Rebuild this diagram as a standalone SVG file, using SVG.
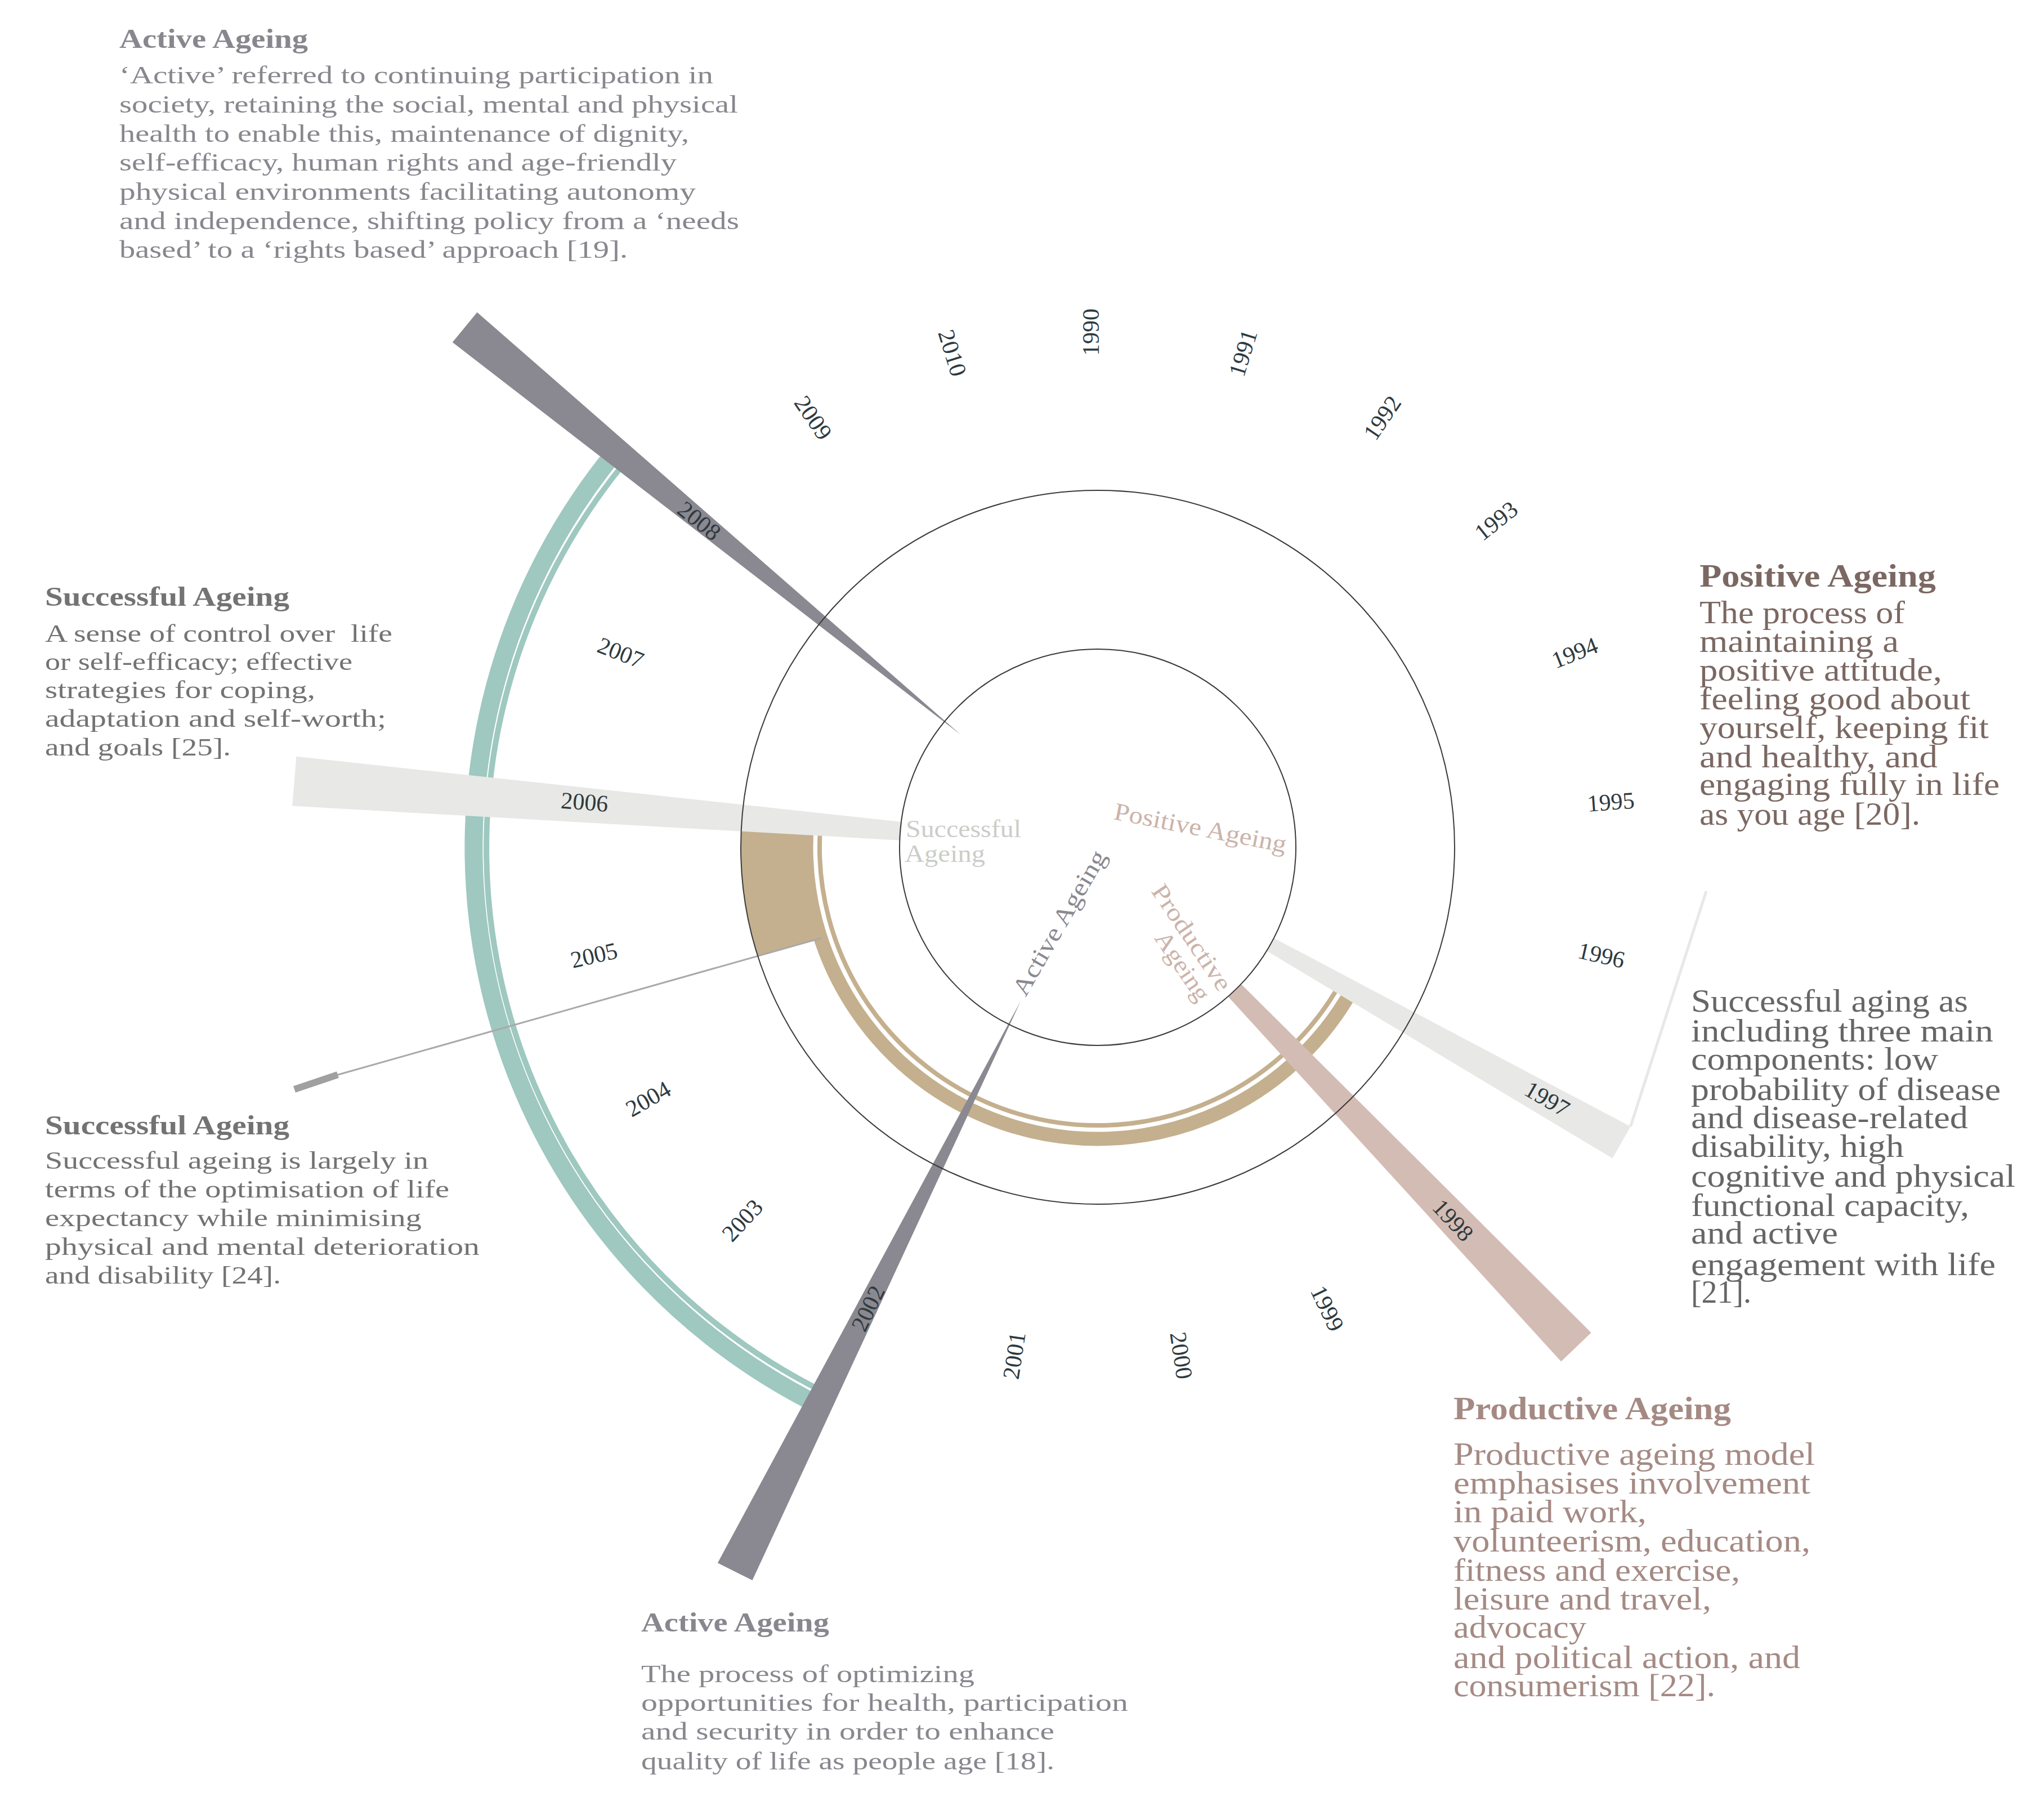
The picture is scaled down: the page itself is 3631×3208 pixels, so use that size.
<svg xmlns="http://www.w3.org/2000/svg" width="3631" height="3208" viewBox="0 0 3631 3208">
<style>
text{font-family:"Liberation Serif","DejaVu Serif",serif}
.yr{font-size:42px;fill:#2e3a3e;text-anchor:middle}
.ttl{font-weight:bold}
.aa{fill:#88878e}
.sa{fill:#737373}
.pa{fill:#7b6862}
.sb{fill:#666666}
.pr{fill:#a58a84}
.b44{font-size:44px}
.b56{font-size:56px}
.t48{font-size:48px}
.t56{font-size:57px}
.circ{fill:none;stroke:#3a3a3a;stroke-width:2}
</style>
<rect width="3631" height="3208" fill="#ffffff"/>
<g id="arcs">
<path d="M1453.9 2495.7 A1107 1107 0 0 1 1093.8 801.7" fill="none" stroke="#9ec8c0" stroke-width="32"/>
<path d="M1465.1 2473.4 A1078 1078 0 0 1 1113.1 817.6" fill="none" stroke="#9ec8c0" stroke-width="10"/>
<path d="M2401.3 1759.3 A518 518 0 0 1 1433.3 1468.9" fill="none" stroke="#c4b08e" stroke-width="25"/>
<path d="M2380.4 1747.5 A494 494 0 0 1 1457.2 1470.5" fill="none" stroke="#c4b08e" stroke-width="8"/>
<path d="M1469.6 1663.9 L1346.3 1698.7 A634 634 0 0 1 1317.5 1460.8 L1445.2 1469.7 A506 506 0 0 0 1469.6 1663.9 Z" fill="#c4b08e"/>
</g>
<g id="bars">
<polygon id="bar2008" points="847.6,554.7 803.8,608.1 1706.6,1305.1" fill="#8a8890"/>
<polygon id="bar2002" points="1274.9,2776.3 1336.5,2807.1 1813.4,1777.7" fill="#8a8890"/>
<polygon id="bar2006" points="526.4,1343.8 1602.6,1459.9 1599.8,1492.7 519.2,1431.6" fill="#e8e8e6"/>
<polygon id="bar1997" points="2263.1,1666.5 2896.5,2001.0 2864.5,2057.6 2250.3,1689.1" fill="#e8e8e6"/>
<polygon id="bar1998" points="2205.0,1748.2 2826.6,2367.2 2773.2,2418.4 2181.8,1770.4" fill="#d3bcb4"/>
</g>
<g id="connectors">
<line x1="2896.5" y1="2001" x2="3031" y2="1583" stroke="#e8e8e6" stroke-width="5"/>
<line x1="1460" y1="1666" x2="597" y2="1910" stroke="#a9a9a9" stroke-width="3"/>
<line x1="600" y1="1909" x2="523" y2="1935" stroke="#a0a0a0" stroke-width="12"/>
</g>
<g id="rings">
<circle class="circ" cx="1950" cy="1505" r="634"/>
<circle class="circ" cx="1950" cy="1505" r="352"/>
</g>
<g id="years">
<text class="yr" dy="2" transform="translate(1950 1505) rotate(-90) translate(915 0)">1990</text>
<text class="yr" dy="2" transform="translate(1950 1505) rotate(-72.857) translate(915 0)">1991</text>
<text class="yr" dy="2" transform="translate(1950 1505) rotate(-55.714) translate(915 0)">1992</text>
<text class="yr" dy="2" transform="translate(1950 1505) rotate(-38.571) translate(915 0)">1993</text>
<text class="yr" dy="2" transform="translate(1950 1505) rotate(-21.429) translate(915 0)">1994</text>
<text class="yr" dy="2" transform="translate(1950 1505) rotate(-4.286) translate(915 0)">1995</text>
<text class="yr" dy="2" transform="translate(1950 1505) rotate(12.857) translate(915 0)">1996</text>
<text class="yr" dy="2" transform="translate(1950 1505) rotate(30) translate(915 0)">1997</text>
<text class="yr" dy="2" transform="translate(1950 1505) rotate(47.143) translate(915 0)">1998</text>
<text class="yr" dy="2" transform="translate(1950 1505) rotate(64.286) translate(915 0)">1999</text>
<text class="yr" dy="2" transform="translate(1950 1505) rotate(81.429) translate(915 0)">2000</text>
<text class="yr" dy="2" transform="translate(1950 1505) rotate(98.571) translate(915 0) rotate(180)">2001</text>
<text class="yr" dy="2" transform="translate(1950 1505) rotate(115.714) translate(915 0) rotate(180)">2002</text>
<text class="yr" dy="2" transform="translate(1950 1505) rotate(132.857) translate(915 0) rotate(180)">2003</text>
<text class="yr" dy="2" transform="translate(1950 1505) rotate(150) translate(915 0) rotate(180)">2004</text>
<text class="yr" dy="2" transform="translate(1950 1505) rotate(167.143) translate(915 0) rotate(180)">2005</text>
<text class="yr" dy="2" transform="translate(1950 1505) rotate(184.286) translate(915 0) rotate(180)">2006</text>
<text class="yr" dy="2" transform="translate(1950 1505) rotate(201.429) translate(915 0) rotate(180)">2007</text>
<text class="yr" dy="2" transform="translate(1950 1505) rotate(218.571) translate(915 0) rotate(180)">2008</text>
<text class="yr" dy="2" transform="translate(1950 1505) rotate(235.714) translate(915 0) rotate(180)">2009</text>
<text class="yr" dy="2" transform="translate(1950 1505) rotate(252.857) translate(915 0) rotate(180)">2010</text>
</g>
<g id="inner-labels">
<g id="lbl-successful" style="fill:#cccdc8" font-size="44">
<text x="1609" y="1487" textLength="205" lengthAdjust="spacingAndGlyphs">Successful</text>
<text x="1607" y="1531" textLength="143" lengthAdjust="spacingAndGlyphs">Ageing</text>
</g>
<g id="lbl-positive" style="fill:#cbb3aa" font-size="44" transform="translate(1977 1455) rotate(11)">
<text x="0" y="0" textLength="311" lengthAdjust="spacingAndGlyphs">Positive Ageing</text>
</g>
<g id="lbl-active" style="fill:#8a8991" font-size="44" transform="translate(1822 1772) rotate(-60)">
<text x="0" y="0" textLength="290" lengthAdjust="spacingAndGlyphs">Active Ageing</text>
</g>
<g id="lbl-productive" style="fill:#cbb3aa" font-size="44" transform="translate(2044 1583) rotate(56)">
<text x="0" y="0" textLength="218" lengthAdjust="spacingAndGlyphs">Productive</text>
<text x="72" y="42" textLength="140" lengthAdjust="spacingAndGlyphs">Ageing</text>
</g>
</g>
<g id="note-active-1" class="aa">
<text class="ttl t48" x="212" y="85" textLength="335" lengthAdjust="spacingAndGlyphs">Active Ageing</text>
<text class="b44" x="212" y="148" textLength="1055" lengthAdjust="spacingAndGlyphs">‘Active’ referred to continuing participation in</text>
<text class="b44" x="212" y="200" textLength="1099" lengthAdjust="spacingAndGlyphs">society, retaining the social, mental and physical</text>
<text class="b44" x="212" y="252" textLength="1012" lengthAdjust="spacingAndGlyphs">health to enable this, maintenance of dignity,</text>
<text class="b44" x="212" y="303" textLength="990" lengthAdjust="spacingAndGlyphs">self-efficacy, human rights and age-friendly</text>
<text class="b44" x="212" y="355" textLength="1024" lengthAdjust="spacingAndGlyphs">physical environments facilitating autonomy</text>
<text class="b44" x="212" y="407" textLength="1101" lengthAdjust="spacingAndGlyphs">and independence, shifting policy from a ‘needs</text>
<text class="b44" x="212" y="458" textLength="903" lengthAdjust="spacingAndGlyphs">based’ to a ‘rights based’ approach [19].</text>
</g>
<g id="note-successful-1" class="sa">
<text class="ttl t48" x="80" y="1076" textLength="434" lengthAdjust="spacingAndGlyphs">Successful Ageing</text>
<text class="b44" x="80" y="1140" textLength="617" lengthAdjust="spacingAndGlyphs" style="white-space:pre">A sense of control over  life</text>
<text class="b44" x="80" y="1190" textLength="546" lengthAdjust="spacingAndGlyphs">or self-efficacy; effective</text>
<text class="b44" x="80" y="1240" textLength="480" lengthAdjust="spacingAndGlyphs">strategies for coping,</text>
<text class="b44" x="80" y="1291" textLength="606" lengthAdjust="spacingAndGlyphs">adaptation and self-worth;</text>
<text class="b44" x="80" y="1342" textLength="330" lengthAdjust="spacingAndGlyphs">and goals [25].</text>
</g>
<g id="note-successful-2" class="sa">
<text class="ttl t48" x="80" y="2015" textLength="434" lengthAdjust="spacingAndGlyphs">Successful Ageing</text>
<text class="b44" x="80" y="2076" textLength="681" lengthAdjust="spacingAndGlyphs">Successful ageing is largely in</text>
<text class="b44" x="80" y="2127" textLength="718" lengthAdjust="spacingAndGlyphs">terms of the optimisation of life</text>
<text class="b44" x="80" y="2178" textLength="669" lengthAdjust="spacingAndGlyphs">expectancy while minimising</text>
<text class="b44" x="80" y="2229" textLength="772" lengthAdjust="spacingAndGlyphs">physical and mental deterioration</text>
<text class="b44" x="80" y="2280" textLength="419" lengthAdjust="spacingAndGlyphs">and disability [24].</text>
</g>
<g id="note-positive" class="pa">
<text class="ttl t56" x="3019" y="1042" textLength="420" lengthAdjust="spacingAndGlyphs">Positive Ageing</text>
<text class="b56" x="3019" y="1107" textLength="365" lengthAdjust="spacingAndGlyphs">The process of</text>
<text class="b56" x="3019" y="1158" textLength="354" lengthAdjust="spacingAndGlyphs">maintaining a</text>
<text class="b56" x="3019" y="1209" textLength="431" lengthAdjust="spacingAndGlyphs">positive attitude,</text>
<text class="b56" x="3019" y="1260" textLength="481" lengthAdjust="spacingAndGlyphs">feeling good about</text>
<text class="b56" x="3019" y="1311" textLength="514" lengthAdjust="spacingAndGlyphs">yourself, keeping fit</text>
<text class="b56" x="3019" y="1363" textLength="423" lengthAdjust="spacingAndGlyphs">and healthy, and</text>
<text class="b56" x="3019" y="1412" textLength="533" lengthAdjust="spacingAndGlyphs">engaging fully in life</text>
<text class="b56" x="3019" y="1465" textLength="392" lengthAdjust="spacingAndGlyphs">as you age [20].</text>
</g>
<g id="note-successful-3" class="sb">
<text class="b56" x="3004" y="1797" textLength="492" lengthAdjust="spacingAndGlyphs">Successful aging as</text>
<text class="b56" x="3004" y="1850" textLength="537" lengthAdjust="spacingAndGlyphs">including three main</text>
<text class="b56" x="3004" y="1900" textLength="439" lengthAdjust="spacingAndGlyphs">components: low</text>
<text class="b56" x="3004" y="1954" textLength="550" lengthAdjust="spacingAndGlyphs">probability of disease</text>
<text class="b56" x="3004" y="2004" textLength="492" lengthAdjust="spacingAndGlyphs">and disease-related</text>
<text class="b56" x="3004" y="2055" textLength="378" lengthAdjust="spacingAndGlyphs">disability, high</text>
<text class="b56" x="3004" y="2108" textLength="576" lengthAdjust="spacingAndGlyphs">cognitive and physical</text>
<text class="b56" x="3004" y="2160" textLength="494" lengthAdjust="spacingAndGlyphs">functional capacity,</text>
<text class="b56" x="3004" y="2209" textLength="261" lengthAdjust="spacingAndGlyphs">and active</text>
<text class="b56" x="3004" y="2265" textLength="541" lengthAdjust="spacingAndGlyphs">engagement with life</text>
<text class="b56" x="3004" y="2314" textLength="107" lengthAdjust="spacingAndGlyphs">[21].</text>
</g>
<g id="note-productive" class="pr">
<text class="ttl t56" x="2582" y="2521" textLength="493" lengthAdjust="spacingAndGlyphs">Productive Ageing</text>
<text class="b56" x="2582" y="2602" textLength="642" lengthAdjust="spacingAndGlyphs">Productive ageing model</text>
<text class="b56" x="2582" y="2653" textLength="634" lengthAdjust="spacingAndGlyphs">emphasises involvement</text>
<text class="b56" x="2582" y="2704" textLength="343" lengthAdjust="spacingAndGlyphs">in paid work,</text>
<text class="b56" x="2582" y="2756" textLength="634" lengthAdjust="spacingAndGlyphs">volunteerism, education,</text>
<text class="b56" x="2582" y="2808" textLength="509" lengthAdjust="spacingAndGlyphs">fitness and exercise,</text>
<text class="b56" x="2582" y="2859" textLength="458" lengthAdjust="spacingAndGlyphs">leisure and travel,</text>
<text class="b56" x="2582" y="2909" textLength="236" lengthAdjust="spacingAndGlyphs">advocacy</text>
<text class="b56" x="2582" y="2963" textLength="616" lengthAdjust="spacingAndGlyphs">and political action, and</text>
<text class="b56" x="2582" y="3013" textLength="465" lengthAdjust="spacingAndGlyphs">consumerism [22].</text>
</g>
<g id="note-active-2" class="aa">
<text class="ttl t48" x="1139" y="2898" textLength="334" lengthAdjust="spacingAndGlyphs">Active Ageing</text>
<text class="b44" x="1139" y="2988" textLength="592" lengthAdjust="spacingAndGlyphs">The process of optimizing</text>
<text class="b44" x="1139" y="3039" textLength="865" lengthAdjust="spacingAndGlyphs">opportunities for health, participation</text>
<text class="b44" x="1139" y="3090" textLength="734" lengthAdjust="spacingAndGlyphs">and security in order to enhance</text>
<text class="b44" x="1139" y="3143" textLength="734" lengthAdjust="spacingAndGlyphs">quality of life as people age [18].</text>
</g>
</svg>
